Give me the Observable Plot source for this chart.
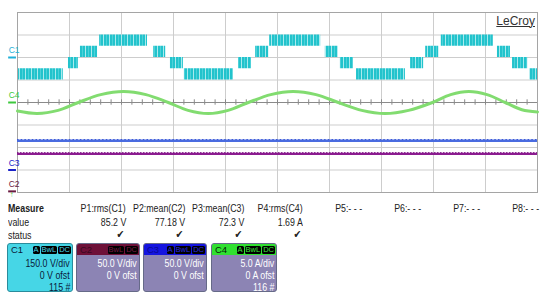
<!DOCTYPE html>
<html><head><meta charset="utf-8">
<script src="https://cdn.jsdelivr.net/npm/d3@7"></script>
<script src="https://cdn.jsdelivr.net/npm/@observablehq/plot@0.6"></script>
<style>
html,body{margin:0;padding:0;background:#fff;}
#wrap{position:relative;width:550px;height:301px;overflow:hidden;font-family:"Liberation Sans",Arial,sans-serif;color:#222;}
#wrap svg{position:absolute;left:0;top:0;}
.t{position:absolute;white-space:nowrap;font-size:10px;line-height:10px;}
.t span, .bt span{display:inline-block;transform:scaleX(0.84);transform-origin:left center;}
.r span, .bt span{transform-origin:right center;}
.r{text-align:right;}
.box{position:absolute;top:243px;height:49px;border-radius:3px;box-sizing:border-box;border:1px solid #666a88;background:#8c84b4;overflow:hidden;}
.band{position:absolute;left:0;right:0;top:0;height:11px;}
.bt{position:absolute;white-space:nowrap;font-size:10.5px;line-height:10px;right:2px;color:#fff;text-align:right;}
.hl{position:absolute;left:3px;top:1px;font-size:9.5px;line-height:10px;}
.badges{position:absolute;right:1px;top:2px;display:flex;gap:1px;}
.badges span{background:#000;font-size:7.5px;line-height:8px;height:8px;padding:0 1px;border-radius:1.5px;}
</style></head>
<body>
<div id="wrap"></div>
<script>
// ---------------- data ----------------
// time axis in divisions (10 divisions across the screen)
const xGrid = [0,1,2,3,4,5,6,7,8,9,10];
const yGrid = [-4,-3,-2,-1,0,1,2,3,4];

// C1: multilevel PWM voltage (V), blocks switching between two adjacent levels
const c1Start = [0.02,0.98,1.21,1.58,2.62,2.94,3.21,4.25,4.58,4.85,5.92,6.21,6.52,7.56,7.85,8.15,9.23,9.52,9.85];
const c1End   = [0.88,1.17,1.54,2.50,2.85,3.19,4.15,4.50,4.83,5.83,6.17,6.46,7.46,7.81,8.10,9.15,9.48,9.81,10.0];
const c1Low   = [-150,-75,0,75,0,-75,-150,-75,0,75,0,-75,-150,-75,0,75,0,-75,-150];
const c1High  = [-75,0,75,150,75,0,-75,0,75,150,75,0,-75,0,75,150,75,0,-75];

// C4: current (A)
const c4Time = [0,0.38,0.78,1.17,1.6,2.04,2.47,2.9,3.28,3.67,4.05,4.44,4.87,5.3,5.74,6.17,6.62,7.07,7.52,7.98,8.33,8.68,9.03,9.38,9.7,10];
const c4Amp  = [-1.9,-2.45,-1.75,0,1.75,2.45,1.75,0,-1.75,-2.45,-1.75,0,1.75,2.45,1.75,0,-1.75,-2.45,-1.75,0,1.75,2.45,1.75,0,-1.6,-2.1];

// C2 / C3: DC voltages (V) as drawn
const c2Level = 83.5;
const c3Level = 65;

// channel settings
const chNames   = ["C1","C4","C3","C2"];
const chScale   = [150,5,50,50];        // units per division
const chOffset  = [2,0,-3,-3.95];       // ground marker position (div)
const chColor   = ["#1fb0d8","#3cc83c","#1a22c8","#6a1a40"];

// measurement table
const measHead  = ["P1:rms(C1)","P2:mean(C2)","P3:mean(C3)","P4:rms(C4)","P5:- - -","P6:- - -","P7:- - -","P8:- - -"];
const measValue = ["85.2 V","77.18 V","72.3 V","1.69 A","","","",""];
const measOk    = [true,true,true,true,false,false,false,false];

// channel boxes
const boxName  = ["C1","C2","C3","C4"];
const boxVdiv  = ["150.0 V/div","50.0 V/div","50.0 V/div","5.0 A/div"];
const boxOfst  = ["0 V ofst","0 V ofst","0 V ofst","0 A ofst"];
const boxCount = ["115 #","","","116 #"];
const boxBadgeA= [true,false,true,true];

// ---------------- drawing ----------------
const c1Rows = c1Start.map((s,i)=>({t1:s,t2:c1End[i],y1:chOffset[0]+c1Low[i]/chScale[0],y2:chOffset[0]+c1High[i]/chScale[0]}));
const c4Rows = c4Time.map((t,i)=>({t,y:chOffset[1]+c4Amp[i]/chScale[1]}));
const chRows = chNames.map((n,i)=>({name:n,off:chOffset[i],color:chColor[i]}));
const c3Y = chOffset[2]+c3Level/chScale[2];
const c2Y = chOffset[3]+c2Level/chScale[3];

const defs = () => {
  const s = d3.create("svg:defs");
  const p = s.append("pattern").attr("id","pwm").attr("patternUnits","userSpaceOnUse").attr("width",6).attr("height",12);
  p.append("rect").attr("width",6).attr("height",12).attr("fill","#22c3cc");
  p.append("rect").attr("x",1).attr("width",1).attr("height",12).attr("fill","#d6f6f8").attr("opacity",0.75);
  p.append("rect").attr("x",4).attr("width",0.7).attr("height",12).attr("fill","#9eeaf0").attr("opacity",0.5);
  return s.node();
};

const minor = d3.range(0,10.001,0.2);

const plot = Plot.plot({
  width:550, height:200,
  marginLeft:17, marginRight:13, marginTop:12, marginBottom:8,
  x:{domain:[0,10],axis:null},
  y:{domain:[-4,4],axis:null},
  color:{type:"identity"},
  style:{background:"transparent",overflow:"visible"},
  marks:[
    defs,
    Plot.gridX(xGrid,{stroke:"#cdcdcd",strokeOpacity:1}),
    Plot.gridY(yGrid,{stroke:"#cdcdcd",strokeOpacity:1}),
    Plot.ruleY([0],{stroke:"#8a8a8a"}),
    Plot.ruleX(minor,{y1:-0.12,y2:0.12,stroke:"#8a8a8a"}),
    Plot.frame({stroke:"#a5a5a5"}),
    Plot.rect(c1Rows,{x1:"t1",x2:"t2",y1:"y1",y2:"y2",fill:"url(#pwm)"}),
    Plot.ruleY([c3Y],{x1:0,x2:10,stroke:"#4a6ce0",strokeWidth:2.4}),
    Plot.ruleY([c3Y],{x1:0,x2:10,dy:-1.2,stroke:"#3a56d6",strokeWidth:1,strokeDasharray:"1.5,2.2"}),
    Plot.ruleY([c2Y],{x1:0,x2:10,stroke:"#8c1c90",strokeWidth:2.2}),
    Plot.ruleY([c2Y],{x1:0,x2:10,dy:-1.1,stroke:"#7a1080",strokeWidth:1,strokeDasharray:"1.5,1.5"}),
    Plot.line(c4Rows,{x:"t",y:"y",stroke:"#82dc70",strokeWidth:3,curve:"catmull-rom"}),
    Plot.ruleY(chRows,{y:"off",x1:-0.17,x2:-0.02,stroke:"color",strokeWidth:2}),
    Plot.text(chRows,{x:-0.17,y:"off",dy:-7,text:"name",fill:"color",textAnchor:"start",fontSize:8.5,fontFamily:"Liberation Sans, sans-serif"})
  ]
});
const wrap = document.getElementById("wrap");
wrap.appendChild(plot);

function add(cls, txt, css){ const d=document.createElement("div"); d.className=cls; const sp=document.createElement("span"); sp.textContent=txt; d.appendChild(sp); Object.assign(d.style,css); wrap.appendChild(d); return d; }

const lc = document.createElement("div"); lc.className="t"; lc.textContent="LeCroy";
Object.assign(lc.style,{right:"15px",top:"14.5px",fontSize:"12px",lineHeight:"12px",textDecoration:"underline",color:"#333"});
wrap.appendChild(lc);
add("t","↑",{left:"10px",top:"191px",fontSize:"8px",lineHeight:"8px",color:"#3cc83c",fontWeight:"bold"});

add("t","Measure",{left:"8px",top:"202.5px",fontWeight:"bold",fontSize:"10.5px"});
add("t","value",{left:"8px",top:"216.5px",fontSize:"10.5px"});
add("t","status",{left:"8px",top:"230px",fontSize:"10.5px"});
measHead.forEach((h,i)=>{
  const right = 550-(126+59*i);
  add("t r",h,{right:right+"px",top:"202.5px",fontSize:"10.5px"});
  if (measValue[i]) add("t r",measValue[i],{right:right+"px",top:"216.5px",fontSize:"10.5px"});
  if (measOk[i]) add("t r","✔",{right:(right+2)+"px",top:"229px",fontSize:"11px",lineHeight:"11px",fontFamily:"DejaVu Sans, sans-serif",color:"#222"});
});

const boxLeft=[7,76,143,211], boxW=[66,64,64,66];
const bandColor=[null,"#6e1038","#1414e0","#30e030"];
const hlColor=["#0a1a3a","#3a0820","#0a0a90","#062006"];
const badgeColor=["#44d7e6","#7a1a44","#2a2ae0","#3ae83a"];
boxName.forEach((n,i)=>{
  const b=document.createElement("div"); b.className="box";
  Object.assign(b.style,{left:boxLeft[i]+"px",width:boxW[i]+"px"});
  if(i===0){ b.style.background="#46d6e6"; b.style.borderColor="#2a8c9c"; }
  else { const band=document.createElement("div"); band.className="band"; band.style.background=bandColor[i]; b.appendChild(band); }
  const hl=document.createElement("div"); hl.className="hl"; hl.textContent=n; hl.style.color=hlColor[i]; b.appendChild(hl);
  const bg=document.createElement("div"); bg.className="badges";
  (boxBadgeA[i]?["A","BwL","DC"]:["BwL","DC"]).forEach(s=>{const sp=document.createElement("span"); sp.textContent=s; sp.style.color=badgeColor[i]; bg.appendChild(sp);});
  b.appendChild(bg);
  const tc = i===0?"#0a1a3a":"#fff";
  [[boxVdiv[i],14],[boxOfst[i],25.5],[boxCount[i],37.5]].forEach(([s,top])=>{
    if(!s) return;
    const d=document.createElement("div"); d.className="bt"; const sp=document.createElement("span"); sp.textContent=s; d.appendChild(sp); d.style.top=top+"px"; d.style.color=tc; b.appendChild(d);
  });
  wrap.appendChild(b);
});
</script>
</body></html>
